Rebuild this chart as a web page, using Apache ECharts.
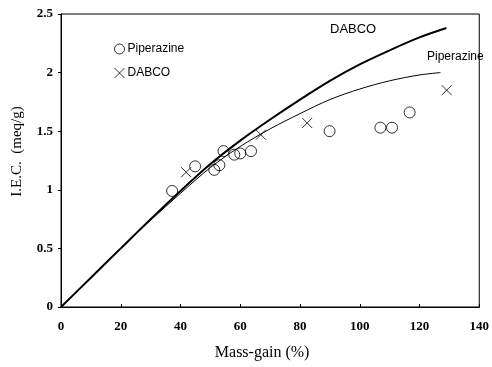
<!DOCTYPE html>
<html>
<head>
<meta charset="utf-8">
<script src="https://cdn.jsdelivr.net/npm/echarts@6/dist/echarts.min.js"></script>
<style>html,body{margin:0;padding:0;background:#fff}#c{width:492px;height:367px}</style>
</head>
<body>
<div id="c"></div>
<script>
// Data
var piperazineX = [37.2, 44.9, 51.3, 53.0, 54.4, 58.0, 60.0, 63.6, 89.9, 106.9, 110.8, 116.7];
var piperazineY = [0.99, 1.20, 1.17, 1.21, 1.33, 1.30, 1.31, 1.33, 1.50, 1.53, 1.53, 1.66];
var dabcoX = [41.9, 66.9, 82.4, 129.1];
var dabcoY = [1.15, 1.47, 1.57, 1.85];
var dabcoCurveX = [0, 10, 20, 30, 40, 50, 60, 70, 80, 90, 100, 110, 120, 129];
var dabcoCurveY = [0, 0.25, 0.50, 0.75, 0.99, 1.22, 1.42, 1.60, 1.77, 1.93, 2.07, 2.19, 2.30, 2.38];
var pipCurveX = [0, 10, 20, 30, 40, 50, 60, 70, 80, 90, 100, 110, 120, 127];
var pipCurveY = [0, 0.25, 0.50, 0.74, 0.97, 1.19, 1.37, 1.52, 1.65, 1.77, 1.86, 1.93, 1.98, 2.00];
var xTicks = [0, 20, 40, 60, 80, 100, 120, 140];
var yTicks = [0, 0.5, 1, 1.5, 2, 2.5];

function zip(a, b) { return a.map(function (v, i) { return [v, b[i]]; }); }

var crossPath = 'path://M0,0L10,10M10,0L0,10';
var chart = echarts.init(document.getElementById('c'));
chart.setOption({
  animation: false,
  backgroundColor: '#fff',
  grid: { left: 61, right: 11, top: 14, bottom: 60, show: true, borderColor: '#000', borderWidth: 1 },
  legend: {
    orient: 'vertical', left: 109, top: 38, itemGap: 12, itemWidth: 10, itemHeight: 10,
    textStyle: { fontFamily: 'Liberation Sans', fontSize: 12, color: '#000', padding: [0, 0, 0, -2] },
    data: [
      { name: 'Piperazine', icon: 'circle', itemStyle: { color: 'rgba(0,0,0,0)', borderColor: '#000', borderWidth: 1 } },
      { name: 'DABCO', icon: crossPath, itemStyle: { color: 'rgba(0,0,0,0)', borderColor: '#000', borderWidth: 1 } }
    ]
  },
  xAxis: {
    type: 'value', min: 0, max: 140, interval: 20,
    name: 'Mass-gain (%)', nameLocation: 'middle', nameGap: 38,
    nameTextStyle: { fontFamily: 'Liberation Serif', fontSize: 16, color: '#000', padding: [0, 16, 0, 0] },
    axisLine: { lineStyle: { color: '#000', width: 1 } },
    axisTick: { inside: true, length: 3, lineStyle: { color: '#000' } },
    axisLabel: { fontFamily: 'Liberation Serif', fontWeight: 'bold', fontSize: 13, color: '#000', margin: 13,
      formatter: function (v) { return xTicks.indexOf(v) >= 0 ? String(v) : ''; } },
    splitLine: { show: false }
  },
  yAxis: {
    type: 'value', min: 0, max: 2.5, interval: 0.5,
    name: 'I.E.C.  (meq/g)', nameLocation: 'middle', nameGap: 36, nameRotate: 90,
    nameTextStyle: { fontFamily: 'Liberation Serif', fontSize: 15, color: '#000', padding: [0, 0, 0, 18] },
    axisLine: { lineStyle: { color: '#000', width: 1 } },
    axisTick: { length: 3, lineStyle: { color: '#000' } },
    axisLabel: { fontFamily: 'Liberation Serif', fontWeight: 'bold', fontSize: 13, color: '#000', margin: 8,
      formatter: function (v) { return yTicks.indexOf(v) >= 0 ? String(v) : ''; } },
    splitLine: { show: false }
  },
  series: [
    { name: 'DABCO curve', type: 'line', data: zip(dabcoCurveX, dabcoCurveY), smooth: 0.3, showSymbol: false,
      lineStyle: { color: '#000', width: 2 }, z: 2 },
    { name: 'Piperazine curve', type: 'line', data: zip(pipCurveX, pipCurveY), smooth: 0.3, showSymbol: false,
      lineStyle: { color: '#000', width: 1 }, z: 2 },
    { name: 'Piperazine', type: 'scatter', data: zip(piperazineX, piperazineY), symbol: 'circle', symbolSize: 11,
      itemStyle: { color: 'rgba(0,0,0,0)', borderColor: '#000', borderWidth: 1 }, z: 3 },
    { name: 'DABCO', type: 'scatter', data: zip(dabcoX, dabcoY), symbol: crossPath, symbolSize: 10,
      itemStyle: { color: 'rgba(0,0,0,0)', borderColor: '#000', borderWidth: 1 }, z: 3 }
  ],
  graphic: [
    { type: 'text', left: 330, top: 23, style: { text: 'DABCO', font: '13px "Liberation Sans"', fill: '#000' } },
    { type: 'text', left: 427, top: 51, style: { text: 'Piperazine', font: '12px "Liberation Sans"', fill: '#000' } }
  ]
});
</script>
</body>
</html>
